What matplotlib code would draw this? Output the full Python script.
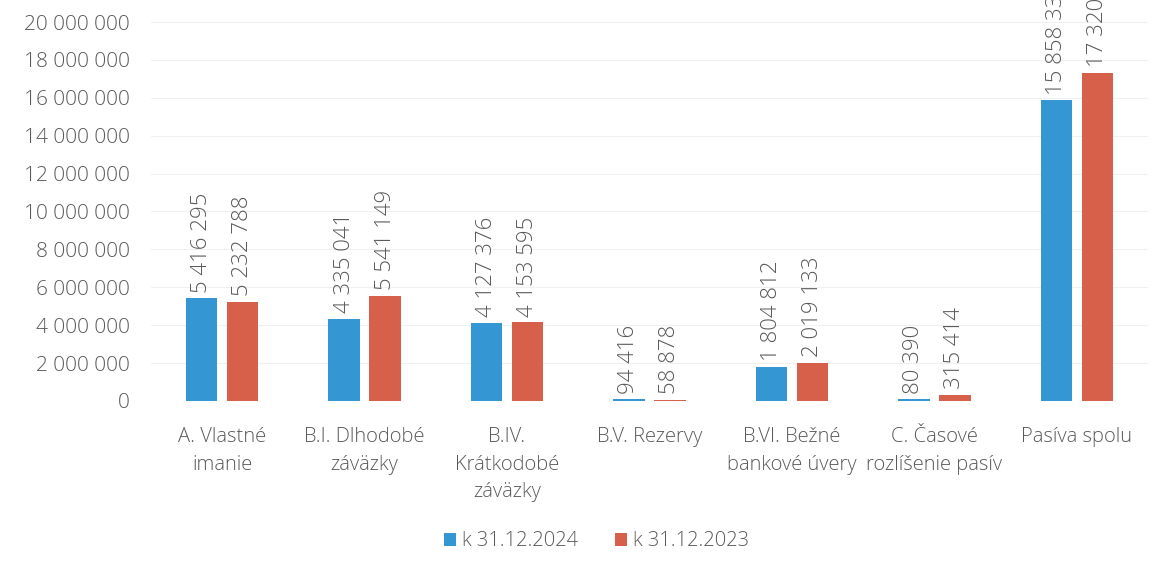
import matplotlib
matplotlib.use("Agg")
import matplotlib.pyplot as plt
from matplotlib.ticker import FuncFormatter
import numpy as np

categories = ["A. Vlastné\nimanie", "B.I. Dlhodobé\nzáväzky", "B.IV.\nKrátkodobé\nzáväzky",
              "B.V. Rezervy", "B.VI. Bežné\nbankové úvery", "C. Časové\nrozlíšenie pasív",
              "Pasíva spolu"]
series_names = ["k 31.12.2024", "k 31.12.2023"]
values_2024 = [5416295, 4335041, 4127376, 94416, 1804812, 80390, 15858330]
values_2023 = [5232788, 5541149, 4153595, 58878, 2019133, 315414, 17320957]
y_ticks = list(range(0, 20000001, 2000000))

colors = ["#3496d3", "#d7604b"]
text_color = "#595959"

plt.rcParams['font.family'] = ['Open Sans', 'DejaVu Sans']
plt.rcParams['font.weight'] = 'light'

fig = plt.figure(figsize=(11.63, 5.73), dpi=100)
ax = fig.add_axes([0.1298, 0.3002, 0.8573, 0.6614])

x = np.arange(len(categories))
w = 0.22
off = 0.144

def fmt(v):
    return f"{int(v):,}".replace(",", " ")

for vals, dx, c, name in [(values_2024, -off, colors[0], series_names[0]),
                          (values_2023, off, colors[1], series_names[1])]:
    bars = ax.bar(x + dx, vals, width=w, color=c, label=name, zorder=3)
    for b, v in zip(bars, vals):
        ax.annotate(fmt(v), (b.get_x() + b.get_width() / 2, v), xytext=(0, 4),
                    textcoords="offset points", rotation=90, ha="center", va="bottom",
                    fontsize=16, color=text_color, annotation_clip=False, clip_on=False)

ax.set_xlim(-0.5, len(categories) - 0.5)
ax.set_ylim(0, 20000000)
ax.set_yticks(y_ticks)
ax.yaxis.set_major_formatter(FuncFormatter(lambda v, p: fmt(v)))
ax.set_xticks(x)
ax.set_xticklabels(categories, linespacing=1.5)
ax.tick_params(axis="x", length=0, labelsize=14.5, labelcolor=text_color, pad=19)
ax.tick_params(axis="y", length=0, labelsize=15, labelcolor=text_color, pad=15)
ax.grid(axis="y", color="#f0f0f0", linewidth=0.8, zorder=0)
for s in ax.spines.values():
    s.set_visible(False)

leg = fig.legend(loc="center", bbox_to_anchor=(0.513, 0.055), ncol=2, frameon=False,
                 fontsize=14.5, handlelength=0.6, handleheight=0.6, handletextpad=0.3,
                 columnspacing=1.8, labelcolor=text_color)

fig.savefig("out.png", dpi=100)
